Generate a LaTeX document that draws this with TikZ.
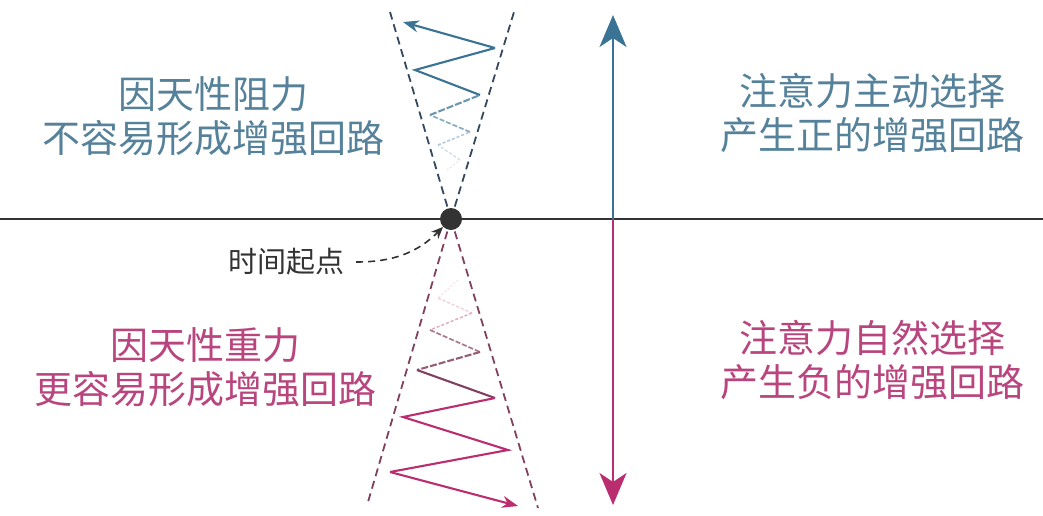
\documentclass[tikz,border=0pt]{standalone}
\usepackage{fontspec}
\newfontfamily\cjk{Noto Sans CJK SC}
\usetikzlibrary{arrows.meta}
\definecolor{upblue}{HTML}{3A7394}
\definecolor{uptext}{HTML}{55829A}
\definecolor{conedark}{HTML}{34495E}
\definecolor{lowpink}{HTML}{BA2E70}
\definecolor{lowtext}{HTML}{B8457E}
\definecolor{conepink}{HTML}{80405F}
\definecolor{axisgray}{HTML}{333333}
\tikzset{
  bigtext/.style={font=\cjk\fontsize{38}{44}\selectfont, align=center},
  cone/.style={dashed, dash pattern=on 8pt off 5pt, line width=1.8pt},
  zig/.style={line width=2.1pt, line join=miter},
}
\begin{document}
\begin{tikzpicture}[x=1pt,y=1pt]
\tikzstyle{every node}+=[inner sep=0pt]
\useasboundingbox (0,0) rectangle (1043,-515);
% time axis
\draw [axisgray, line width=1.4pt] (0,-219) -- (1043,-219);
% cones
\coordinate (ul) at (390,-12);
\coordinate (ur) at (514,-12);
\coordinate (ll) at (368,-502);
\coordinate (lr) at (538,-508);
\draw [conedark, cone] (451,-219) -- (ul);
\draw [conedark, cone] (451,-219) -- (ur);
\draw [conepink, cone] (451,-219) -- (ll);
\draw [conepink, cone] (451,-219) -- (lr);
% upper zigzag
\draw [upblue!15, zig, line width=1.2pt, dash pattern=on 2pt off 2pt] (447,-170) -- (460,-160);
\draw [upblue!25, zig, line width=1.3pt, dash pattern=on 3pt off 2pt] (460,-160) -- (438,-145);
\draw [upblue!40, zig, line width=1.5pt, dash pattern=on 3pt off 2pt] (438,-145) -- (470,-132);
\draw [upblue!60, zig, line width=1.7pt, dash pattern=on 5pt off 2pt] (470,-132) -- (430,-115);
\draw [upblue!75, zig, dash pattern=on 7pt off 2pt] (430,-115) -- (480,-95);
\draw [upblue, zig] (480,-95) -- (415,-70) -- (495,-48);
\draw [upblue, zig, -{Stealth[length=16pt,width=12pt]}] (495,-48) -- (403,-22);
% lower zigzag
\draw [lowpink!15, zig, line width=1.2pt, dash pattern=on 2pt off 2pt] (458,-280) -- (438,-298);
\draw [lowpink!25, zig, line width=1.3pt, dash pattern=on 3pt off 2pt] (438,-298) -- (472,-313);
\draw [lowpink!40, zig, line width=1.5pt, dash pattern=on 3pt off 2pt] (472,-313) -- (430,-330);
\draw [conepink!70, zig, line width=1.7pt, dash pattern=on 5pt off 2pt] (430,-330) -- (480,-352);
\draw [conepink!85, zig, dash pattern=on 7pt off 2pt] (480,-352) -- (417,-370);
\draw [conepink, zig] (417,-370) -- (495,-398);
\draw [lowpink, zig] (495,-398) -- (403,-417) -- (508,-450) -- (390,-472);
\draw [lowpink, zig, -{Stealth[length=16pt,width=12pt]}] (390,-472) -- (518,-506);
% start point
\node (start) [circle, fill=axisgray, minimum size=22pt] at (451,-219) {};
\node (startlabel) [font=\cjk\fontsize{29}{34}\selectfont, axisgray] at (286,-262) {时间起点};
\draw [axisgray, line width=1.6pt, dash pattern=on 7pt off 5pt, -{Stealth[length=12pt,width=10pt]}]
  ([xshift=12pt]startlabel.east) to[out=0, in=225] (start);
% attention axis
\coordinate (atop) at (613,-15);
\coordinate (abot) at (613,-505);
\coordinate (amid) at (613,-219);
\draw [upblue, line width=2.4pt, -{Stealth[length=32pt,width=27pt,inset=9pt]}] (amid) -- (atop);
\draw [lowpink, line width=2.4pt, -{Stealth[length=32pt,width=27pt,inset=9pt]}] (amid) -- (abot);
% labels
\node (upleft) [bigtext, uptext] at (213,-116) {因天性阻力\\不容易形成增强回路};
\node (upright) [bigtext, uptext] at (872,-113) {注意力主动选择\\产生正的增强回路};
\node (lowleft) [bigtext, lowtext] at (205,-367) {因天性重力\\更容易形成增强回路};
\node (lowright) [bigtext, lowtext] at (872,-360) {注意力自然选择\\产生负的增强回路};
\end{tikzpicture}
\end{document}
